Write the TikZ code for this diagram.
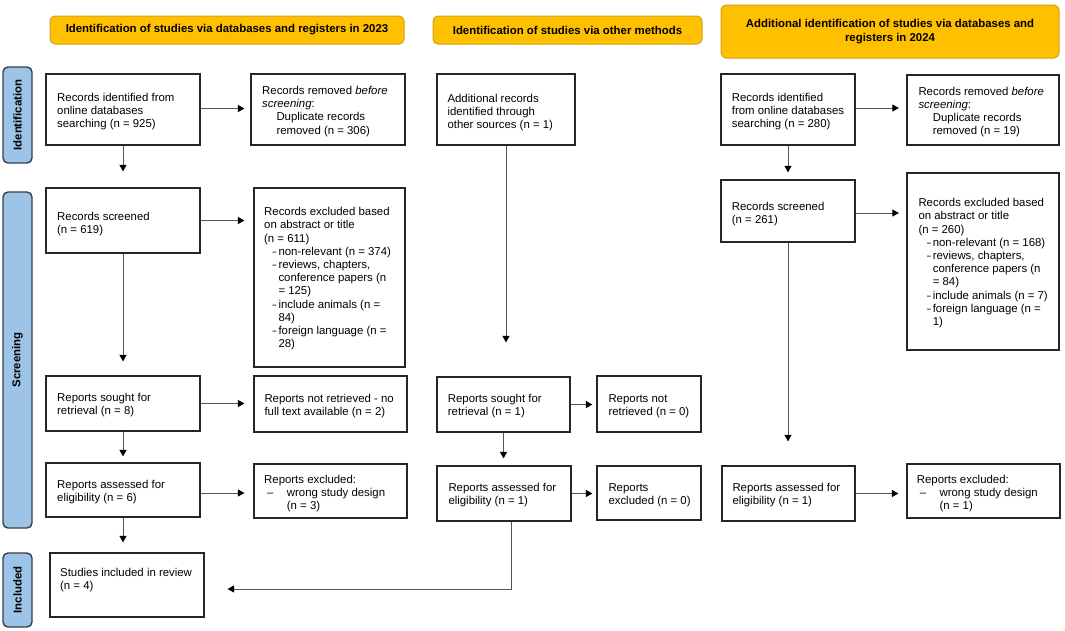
\documentclass[tikz,border=0pt]{standalone}
\usepackage{fontspec}
\setmainfont{Liberation Sans}
\usetikzlibrary{arrows.meta,fit,calc}
\definecolor{hdr}{HTML}{FFC000}
\definecolor{hdrb}{HTML}{D4A017}
\definecolor{side}{HTML}{9DC3E6}
\definecolor{sideb}{HTML}{323F4F}
\definecolor{ln}{HTML}{555555}
\newcommand\di{\makebox[14.3pt][l]{\hspace*{8.5pt}\scalebox{0.6}[1]{–}}}
\newcommand\ci{\hspace*{14.3pt}}
\newcommand\wi{\makebox[22.7pt][l]{\hspace*{3pt}–}}
\begin{document}
\begin{tikzpicture}[x=1pt,y=-1pt,
  bx/.style={draw=black!85, line width=1.2pt, inner sep=0pt, fit={#1}},
  hdrbox/.style={draw=hdrb, fill=hdr, line width=1pt, rounded corners=5pt, inner sep=0pt, fit={#1}},
  sidebox/.style={draw=sideb, fill=side, line width=1.4pt, rounded corners=5pt, inner sep=0pt, fit={#1}},
  txt/.style={inner sep=0pt, anchor=north west, align=left, font=\fontsize{11.4}{13.2}\selectfont},
  htxt/.style={inner sep=0pt, align=center, font=\fontsize{11.4}{14}\selectfont\bfseries},
  stxt/.style={inner sep=0pt, rotate=90, font=\fontsize{11.4}{14}\selectfont\bfseries},
  arr/.style={draw=ln, line width=0.9pt, -{Triangle[length=6.5pt,width=7pt,color=black]}}
]
\useasboundingbox (0,0) rectangle (1065,630);
\fill[white] (0,0) rectangle (1065,630);

% headers
\node[hdrbox={(50,16) (404,44)}] (h1) {};
\node[htxt] (h1t) at (h1.center) {Identification of studies via databases and registers in 2023};
\node[hdrbox={(433,16) (702,44)}] (h2) {};
\node[htxt] (h2t) at (h2.center) {Identification of studies via other methods};
\node[hdrbox={(721,5) (1059,58)}] (h3) {};
\node[htxt] (h3t) at (h3.center) {Additional identification of studies via databases and\\registers in 2024};

% side labels
\node[sidebox={(3,67) (32,163)}] (s1) {};
\node[stxt] (s1t) at (s1.center) {Identification};
\node[sidebox={(3,192) (32,528)}] (s2) {};
\node[stxt] (s2t) at (s2.center) {Screening};
\node[sidebox={(3,553) (32,627)}] (s3) {};
\node[stxt] (s3t) at (s3.center) {Included};

% column A
\node[bx={(46,74) (200,145)}] (a1) {};
\node[txt] (a1t) at (57,92.7) {Records identified from\\online databases\\searching (n = 925)};
\node[bx={(251,74) (405,145)}] (a2) {};
\node[txt] (a2t) at (262,86) {Records removed \textit{before}\\\textit{screening}:\\\ci Duplicate records\\\ci removed (n = 306)};
\node[bx={(46,188) (200,253)}] (a3) {};
\node[txt] (a3t) at (57,211.7) {Records screened\\(n = 619)};
\node[bx={(254,188) (405,367)}] (a4) {};
\node[txt] (a4t) at (264,207.3) {Records excluded based\\on abstract or title\\(n = 611)\\\di non-relevant (n = 374)\\\di reviews, chapters,\\\ci conference papers (n\\\ci = 125)\\\di include animals (n =\\\ci 84)\\\di foreign language (n =\\\ci 28)};
\node[bx={(46,376) (200,431)}] (a5) {};
\node[txt] (a5t) at (57,393.3) {Reports sought for\\retrieval (n = 8)};
\node[bx={(254,376) (407,432)}] (a6) {};
\node[txt] (a6t) at (264.3,394) {Reports not retrieved - no\\full text available (n = 2)};
\node[bx={(46,463) (200,517)}] (a7) {};
\node[txt] (a7t) at (57,480) {Reports assessed for\\eligibility (n = 6)};
\node[bx={(254,464) (407,518)}] (a8) {};
\node[txt] (a8t) at (264,475) {Reports excluded:\\\wi wrong study design\\\hspace*{22.7pt}(n = 3)};
\node[bx={(50,553) (204,617)}] (a9) {};
\node[txt] (a9t) at (60,568.3) {Studies included in review\\(n = 4)};

% column B
\node[bx={(437,74) (575,145)}] (b1) {};
\node[txt] (b1t) at (447.3,94) {Additional records\\identified through\\other sources (n = 1)};
\node[bx={(437,377) (570,432)}] (b5) {};
\node[txt] (b5t) at (447.7,394) {Reports sought for\\retrieval (n = 1)};
\node[bx={(597,376) (701,432)}] (b6) {};
\node[txt] (b6t) at (608.3,394) {Reports not\\retrieved (n = 0)};
\node[bx={(437,466) (571,521)}] (b7) {};
\node[txt] (b7t) at (448.3,483.3) {Reports assessed for\\eligibility (n = 1)};
\node[bx={(597,466) (701,520)}] (b8) {};
\node[txt] (b8t) at (608.3,483.3) {Reports\\excluded (n = 0)};

% column C
\node[bx={(721,74) (855,145)}] (c1) {};
\node[txt] (c1t) at (731.7,92.7) {Records identified\\from online databases\\searching (n = 280)};
\node[bx={(907,75) (1059,145)}] (c2) {};
\node[txt] (c2t) at (918.3,86.7) {Records removed \textit{before}\\\textit{screening}:\\\ci Duplicate records\\\ci removed (n = 19)};
\node[bx={(721,180) (855,242)}] (c3) {};
\node[txt] (c3t) at (731.7,201.7) {Records screened\\(n = 261)};
\node[bx={(907,173) (1059,350)}] (c4) {};
\node[txt] (c4t) at (918.3,198.3) {Records excluded based\\on abstract or title\\(n = 260)\\\di non-relevant (n = 168)\\\di reviews, chapters,\\\ci conference papers (n\\\ci = 84)\\\di include animals (n = 7)\\\di foreign language (n =\\\ci 1)};
\node[bx={(722,466) (855,521)}] (c7) {};
\node[txt] (c7t) at (732.3,483.3) {Reports assessed for\\eligibility (n = 1)};
\node[bx={(907,464) (1060,518)}] (c8) {};
\node[txt] (c8t) at (916.7,475) {Reports excluded:\\\wi wrong study design\\\hspace*{22.7pt}(n = 1)};

% connectors column A
\draw[arr, shorten >=6pt] ([yshift=1pt]a1.east) -- ([yshift=1pt]a1.east -| a2.west);
\draw[arr, shorten >=16pt] (a1.south) -- (a1.south |- a3.north);
\draw[arr, shorten >=9pt] (a3.east) -- (a3.east -| a4.west);
\draw[arr, shorten >=14pt] (a3.south) -- (a3.south |- a5.north);
\draw[arr, shorten >=9pt] (a5.east) -- (a5.east -| a6.west);
\draw[arr, shorten >=6pt] (a5.south) -- (a5.south |- a7.north);
\draw[arr, shorten >=9pt] ([yshift=-3pt]a7.east) -- ([yshift=-3pt]a7.east -| a8.west);
\draw[arr, shorten >=10pt] (a7.south) -- (a7.south |- a9.north);

% connectors column B
\draw[arr, shorten >=34pt] (b1.south) -- (b1.south |- b5.north);
\draw[arr, shorten >=4pt] (b5.east) -- (b5.east -| b6.west);
\draw[arr, shorten >=7pt] (b5.south) -- (b5.south |- b7.north);
\draw[arr, shorten >=4pt] (b7.east) -- (b7.east -| b8.west);
\draw[arr, shorten >=23pt] ([xshift=7pt]b7.south) |- ([yshift=-4pt]a9.east);

% connectors column C
\draw[arr, shorten >=7.5pt] ([yshift=1.5pt]c1.east) -- ([yshift=1.5pt]c1.east -| c2.west);
\draw[arr, shorten >=7pt] (c1.south) -- (c1.south |- c3.north);
\draw[arr, shorten >=7.5pt] ([yshift=-2pt]c3.east) -- ([yshift=-2pt]c3.east -| c4.west);
\draw[arr, shorten >=24pt] (c3.south) -- (c3.south |- c7.north);
\draw[arr, shorten >=8pt] (c7.east) -- (c7.east -| c8.west);
\end{tikzpicture}
\end{document}
